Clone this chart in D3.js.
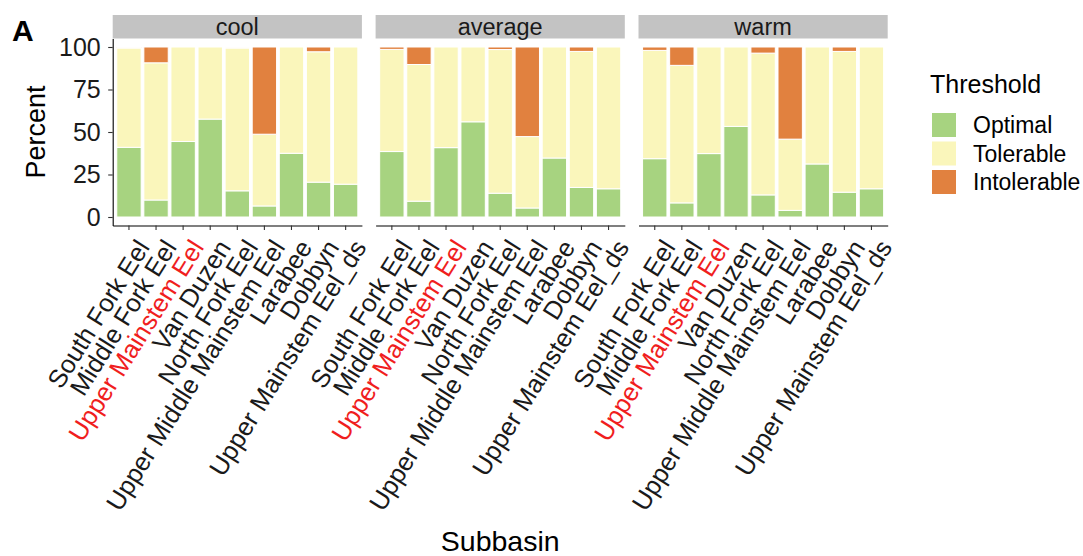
<!DOCTYPE html>
<html>
<head>
<meta charset="utf-8">
<script src="https://cdn.jsdelivr.net/npm/d3@7"></script>
<style>
  body { margin: 0; background: #fff; }
  text { font-family: "Liberation Sans", Arial, sans-serif; }
</style>
</head>
<body>
<script>
// data
const subbasins = ["South Fork Eel", "Middle Fork Eel", "Upper Mainstem Eel", "Van Duzen",
  "North Fork Eel", "Upper Middle Mainstem Eel", "Larabee", "Dobbyn", "Upper Mainstem Eel_ds"];
const scenarios = ["cool", "average", "warm"];
const thresholds = ["Optimal", "Tolerable", "Intolerable"];
const yTicks = [0, 25, 50, 75, 100];

// one row per scenario, one value per subbasin (percent)
const optimal = [
  [41, 10, 44.4, 57.6, 15.4, 6.5, 37.5, 20.5, 19.3],
  [38.5, 9.3, 40.8, 56, 14, 5.3, 34.7, 17.4, 16.6],
  [34.3, 8.3, 37.3, 53.3, 13, 3.9, 31.2, 14.6, 16.6]
];
const tolerable = [
  [58.4, 80.7, 55.6, 42.4, 84, 42.2, 62.5, 76.7, 80.7],
  [60.1, 80.4, 59.2, 44, 84.5, 42, 65.3, 80, 83.4],
  [63.7, 80.9, 62.7, 46.7, 83.4, 41.9, 68.8, 82.8, 83.4]
];
const intolerable = [
  [0.6, 9.3, 0, 0, 0.6, 51.3, 0, 2.8, 0],
  [1.4, 10.3, 0, 0, 1.5, 52.7, 0, 2.6, 0],
  [2, 10.8, 0, 0, 3.6, 54.2, 0, 2.6, 0]
];

const colors = { Optimal: "#a7d380", Tolerable: "#faf6bb", Intolerable: "#e1813f" };
const highlight = "Upper Mainstem Eel";

const width = 1083, height = 556;
const panelLeft = 112.7, panelW = 249.2, gap = 13.7;
const panelTop = 38.5, panelBottom = 225.5;

const svg = d3.select("body").append("svg")
  .attr("width", width).attr("height", height);

const y = d3.scaleLinear().domain([-5, 105]).range([panelBottom, panelTop]);

scenarios.forEach((sc, i) => {
  const x0 = panelLeft + i * (panelW + gap);
  const x = d3.scaleBand().domain(subbasins)
    .range([x0, x0 + panelW]).paddingInner(0.1).paddingOuter(0.15);

  const rows = subbasins.map((s, j) => ({
    name: s,
    Optimal: optimal[i][j],
    Tolerable: tolerable[i][j],
    Intolerable: intolerable[i][j]
  }));
  const stacked = d3.stack().keys(thresholds)(rows);

  const g = svg.append("g");

  // strip
  g.append("rect")
    .attr("x", x0).attr("y", 15)
    .attr("width", panelW).attr("height", panelTop - 15)
    .attr("fill", "#c3c3c3");
  g.append("text")
    .attr("x", x0 + panelW / 2).attr("y", 35)
    .attr("text-anchor", "middle")
    .attr("font-size", 23.5)
    .attr("fill", "#1a1a1a")
    .text(sc);

  // bars
  g.selectAll(".layer")
    .data(stacked)
    .enter()
    .append("g")
    .attr("fill", (d) => colors[d.key])
    .selectAll("rect")
    .data((d) => d)
    .enter()
    .append("rect")
    .attr("x", (d) => x(d.data.name))
    .attr("width", x.bandwidth())
    .attr("y", (d) => y(d[1]))
    .attr("height", (d) => y(d[0]) - y(d[1]))
    .attr("stroke", "white")
    .attr("stroke-width", 1);

  // x axis
  const xAxis = g.append("g")
    .attr("transform", "translate(0," + panelBottom + ")")
    .call(d3.axisBottom(x).tickSize(4.5).tickSizeOuter(0));
  xAxis.select(".domain").attr("stroke", "#000").attr("stroke-width", 1.1);
  xAxis.selectAll(".tick line").attr("stroke", "#333").attr("stroke-width", 1.1);
  xAxis.selectAll(".tick text")
    .attr("font-size", 25.5)
    .attr("font-family", "'Liberation Sans', Arial, sans-serif")
    .attr("fill", (d) => (d === highlight ? "#f01e1e" : "#1a1a1a"))
    .attr("text-anchor", "end")
    .attr("x", 0).attr("y", 0)
    .attr("dy", "0.72em")
    .attr("transform", "translate(6,12) rotate(-58)");

  // y axis on first panel only
  if (i === 0) {
    const yAxis = g.append("g")
      .attr("transform", "translate(" + x0 + ",0)")
      .call(d3.axisLeft(y).tickValues(yTicks).tickSize(4.5).tickSizeOuter(0));
    yAxis.select(".domain").attr("stroke", "#000").attr("stroke-width", 1.1);
    yAxis.selectAll(".tick line").attr("stroke", "#333").attr("stroke-width", 1.1);
    yAxis.selectAll(".tick text")
      .attr("font-size", 25)
      .attr("font-family", "'Liberation Sans', Arial, sans-serif")
      .attr("fill", "#1a1a1a")
      .attr("x", -12);
  }
});

// titles
svg.append("text")
  .attr("x", 12).attr("y", 41)
  .attr("font-size", 30).attr("font-weight", "bold")
  .text("A");

svg.append("text")
  .attr("transform", "translate(45," + (panelTop + panelBottom) / 2 + ") rotate(-90)")
  .attr("text-anchor", "middle")
  .attr("font-size", 27)
  .text("Percent");

svg.append("text")
  .attr("x", panelLeft + (3 * panelW + 2 * gap) / 2).attr("y", 551)
  .attr("text-anchor", "middle")
  .attr("font-size", 28.5)
  .text("Subbasin");

// legend
const legend = svg.append("g").attr("transform", "translate(930,0)");
legend.append("text")
  .attr("x", 0).attr("y", 93)
  .attr("font-size", 25)
  .text("Threshold");

thresholds.forEach((t, k) => {
  const ly = 113 + k * 28.5;
  legend.append("rect")
    .attr("x", 2).attr("y", ly)
    .attr("width", 24).attr("height", 24)
    .attr("fill", colors[t]);
  legend.append("text")
    .attr("x", 43).attr("y", ly + 20)
    .attr("font-size", 23)
    .text(t);
});
</script>
</body>
</html>
